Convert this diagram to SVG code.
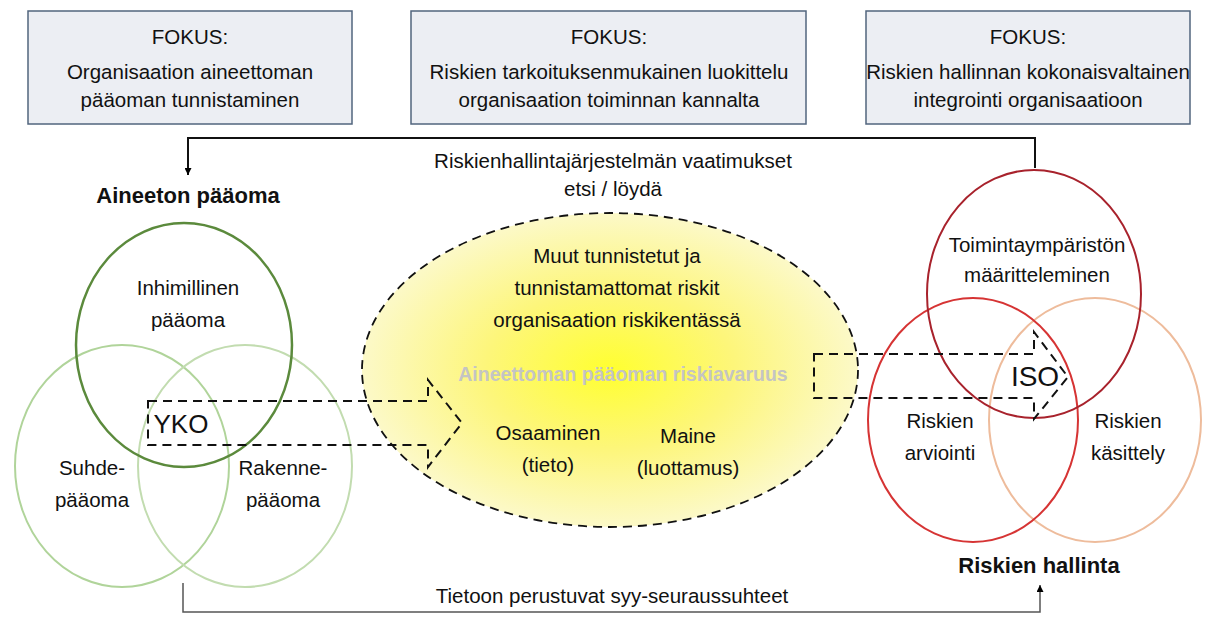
<svg xmlns="http://www.w3.org/2000/svg" width="1219" height="617" viewBox="0 0 1219 617">
<defs>
<radialGradient id="yel" cx="0.5" cy="0.5" r="0.5">
<stop offset="0" stop-color="#ffff30"/>
<stop offset="0.5" stop-color="#fdf67a"/>
<stop offset="1" stop-color="#fcf9c8"/>
</radialGradient>
<marker id="ah" viewBox="0 0 10 10" refX="10" refY="5" markerWidth="7" markerHeight="7" markerUnits="userSpaceOnUse" orient="auto">
<path d="M0,0 L10,5 L0,10 z" fill="#000"/>
</marker>
</defs>
<style>
text{font-family:"Liberation Sans",Arial,sans-serif;fill:#111;text-anchor:middle}
.t{font-size:20.5px}
.b{font-size:22px;font-weight:bold}
.box{fill:#eceef3;stroke:#52657e;stroke-width:1.5}
.dash{fill:none;stroke:#111;stroke-width:2;stroke-dasharray:9 6}
.conn{fill:none;stroke:#111;stroke-width:2}
</style>
<rect width="1219" height="617" fill="#fff"/>

<g id="focus1"><rect class="box" x="28" y="11" width="324" height="113"/>
<text class="t" x="190" y="44">FOKUS:</text>
<text class="t" x="190" y="79">Organisaation aineettoman</text>
<text class="t" x="190" y="107">pääoman tunnistaminen</text></g>

<g id="focus2"><rect class="box" x="411" y="11" width="395" height="113"/>
<text class="t" x="609" y="44">FOKUS:</text>
<text class="t" x="609" y="79">Riskien tarkoituksenmukainen luokittelu</text>
<text class="t" x="609" y="107">organisaation toiminnan kannalta</text></g>

<g id="focus3"><rect class="box" x="866" y="11" width="324" height="113"/>
<text class="t" x="1028" y="44">FOKUS:</text>
<text class="t" x="1028" y="79">Riskien hallinnan kokonaisvaltainen</text>
<text class="t" x="1028" y="107">integrointi organisaatioon</text></g>

<g id="connectors">
<path class="conn" d="M1035,168 V138 H188 V175" marker-end="url(#ah)"/>
<path d="M183,583 V612 H1040 V585" fill="none" stroke="#555" stroke-width="1.5" marker-end="url(#ah)"/>
<text class="t" x="613" y="168">Riskienhallintajärjestelmän vaatimukset</text>
<text class="t" x="613" y="196">etsi / löydä</text>
<text class="t" x="612" y="603">Tietoon perustuvat syy-seuraussuhteet</text>
</g>

<g id="aineeton">
<text class="b" x="188" y="203">Aineeton pääoma</text>
<ellipse cx="122" cy="466" rx="107" ry="121" fill="none" stroke="#b0d49a" stroke-width="2"/>
<ellipse cx="245" cy="466" rx="107" ry="121" fill="none" stroke="#c2dcb0" stroke-width="2"/>
<ellipse cx="184" cy="345" rx="108" ry="122" fill="none" stroke="#5b8a3c" stroke-width="2.5"/>
<text class="t" x="188" y="295">Inhimillinen</text>
<text class="t" x="188" y="327">pääoma</text>
<text class="t" x="92" y="475">Suhde-</text>
<text class="t" x="92" y="507">pääoma</text>
<text class="t" x="283" y="475">Rakenne-</text>
<text class="t" x="283" y="507">pääoma</text>
</g>

<g id="riskiavaruus">
<ellipse cx="610" cy="370" rx="248" ry="157" fill="url(#yel)" stroke="#111" stroke-width="1.8" stroke-dasharray="9 6"/>
<text class="t" x="617" y="263">Muut tunnistetut ja</text>
<text class="t" x="617" y="295">tunnistamattomat riskit</text>
<text class="t" x="617" y="327">organisaation riskikentässä</text>
<text x="623" y="381" style="font-size:19.5px;font-weight:bold;fill:#c4c4c4">Aineettoman pääoman riskiavaruus</text>
<text class="t" x="548" y="440">Osaaminen</text>
<text class="t" x="548" y="472">(tieto)</text>
<text class="t" x="688" y="443">Maine</text>
<text class="t" x="688" y="475">(luottamus)</text>
</g>

<g id="yko">
<path class="dash" d="M148,401 H428 V380 L462,423 L428,467 V445 H148 Z"/>
<text x="181" y="433" style="font-size:26px">YKO</text>
</g>

<g id="riskienhallinta">
<ellipse cx="1095" cy="420" rx="106" ry="122" fill="none" stroke="#eebc9c" stroke-width="2"/>
<ellipse cx="973" cy="420" rx="105" ry="122" fill="none" stroke="#d63434" stroke-width="2"/>
<ellipse cx="1034" cy="294" rx="107" ry="124" fill="none" stroke="#a8222c" stroke-width="2"/>
<text class="t" x="1037" y="252">Toimintaympäristön</text>
<text class="t" x="1037" y="282">määritteleminen</text>
<text class="t" x="940" y="428">Riskien</text>
<text class="t" x="940" y="460">arviointi</text>
<text class="t" x="1128" y="428">Riskien</text>
<text class="t" x="1128" y="460">käsittely</text>
<text class="b" x="1039" y="573">Riskien hallinta</text>
</g>

<g id="iso">
<path class="dash" d="M814,354 H1034 V332 L1068,377 L1034,419 V398 H814 Z"/>
<text x="1035" y="386" style="font-size:28px">ISO</text>
</g>
</svg>
